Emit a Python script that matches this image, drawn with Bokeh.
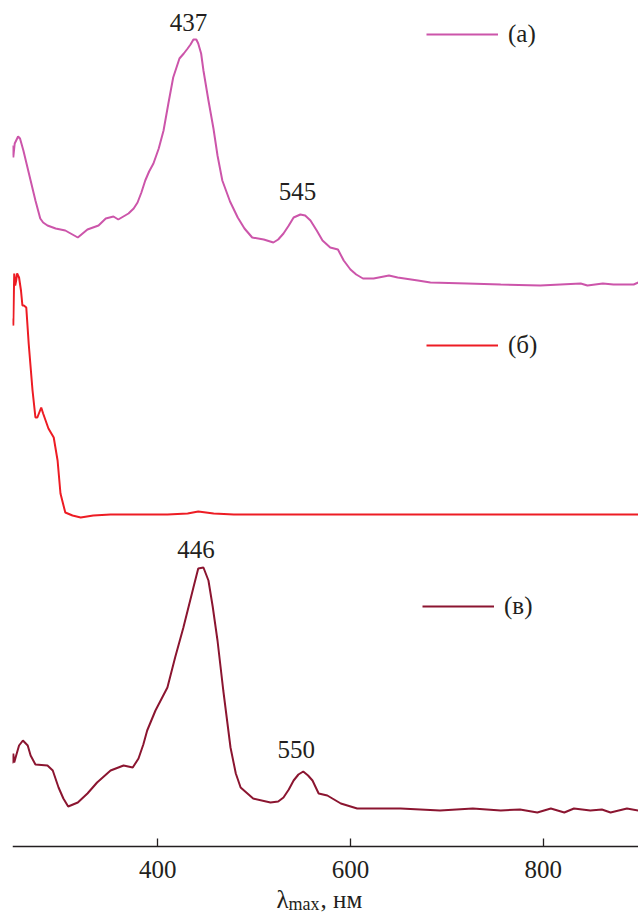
import numpy as np
from bokeh.plotting import figure
from bokeh.models import Range1d, Legend, LegendItem, Label, FixedTicker, ColumnDataSource, LinearAxis
from bokeh.core.properties import value
from bokeh.embed import file_html
from bokeh.resources import INLINE

# ---- data (wavelength, nm ; absorbance, a.u., spectra stacked) ----
wl_a = [249, 250, 251.5, 255, 257, 260.5, 264, 268, 273, 278, 281, 285.5, 294,
        304, 317, 322, 327, 338.5, 346, 354, 359, 369.6, 375, 379, 383, 387,
        391, 395.5, 401, 406, 411, 416, 422.5, 427, 431, 434, 437, 440, 442, 445, 447.4, 452.6, 457.8,
        462, 467, 475, 483, 490, 498, 510, 520, 525, 530.5, 536, 541, 548, 553, 558.5, 565, 571,
        579, 587, 593, 600, 606, 613, 624, 640, 649, 670, 683,
        721, 756, 797, 818, 839, 846, 862, 873, 894, 899]
abs_a = [7.03, 6.91, 7.05, 7.12, 7.10, 6.98, 6.84, 6.68, 6.48, 6.30, 6.26, 6.23, 6.20,
         6.18, 6.11, 6.15, 6.19, 6.23, 6.30, 6.32, 6.29, 6.35, 6.40, 6.46, 6.56, 6.68,
         6.77, 6.85, 7.00, 7.18, 7.45, 7.71, 7.90, 7.95, 8.00, 8.04, 8.09, 8.09, 8.05, 7.95, 7.78, 7.48, 7.20,
         6.93, 6.68, 6.47, 6.31, 6.20, 6.11, 6.09, 6.06, 6.09, 6.15, 6.23, 6.31, 6.34, 6.33, 6.28, 6.18, 6.08,
         6.01, 5.99, 5.88, 5.79, 5.74, 5.70, 5.70, 5.73, 5.71, 5.68, 5.66,
         5.65, 5.64, 5.63, 5.64, 5.65, 5.63, 5.65, 5.64, 5.64, 5.66]

wl_b = [249, 250, 251, 252, 253, 254, 256, 258, 259.5, 261,
        263.5, 266, 270, 273, 275, 279, 281, 286.5, 292, 296,
        299, 304, 311.5, 320, 333, 351, 410, 431, 442, 458,
        479, 600, 750, 899]
abs_b = [5.30, 5.23, 5.75, 5.63, 5.68, 5.75, 5.71, 5.58, 5.43, 5.43,
         5.41, 5.05, 4.58, 4.31, 4.31, 4.41, 4.35, 4.20, 4.11, 3.88,
         3.55, 3.36, 3.33, 3.31, 3.33, 3.34, 3.34, 3.35, 3.37, 3.35,
         3.34, 3.34, 3.34, 3.34]

wl_c = [249, 250, 251, 253, 256, 260, 265, 268, 273, 285.5,
        291, 297, 302, 307, 317, 327, 337, 351, 364.5, 374, 380,
        385, 389, 397.6, 410, 418, 426.6, 437, 442, 447.4, 452.6, 457, 462,
        468, 475.5, 481, 486, 499, 517, 525, 530.5, 536, 541, 546, 551, 556, 560.6, 567,
        576, 590, 607, 652, 693, 727, 756, 776, 794, 808,
        822, 832, 849, 861, 870, 887, 899]
abs_c = [0.85, 0.95, 0.86, 0.93, 1.03, 1.08, 1.03, 0.93, 0.84, 0.83,
         0.78, 0.61, 0.50, 0.42, 0.46, 0.55, 0.66, 0.78, 0.83, 0.81, 0.90,
         1.04, 1.18, 1.38, 1.61, 1.91, 2.21, 2.61, 2.80, 2.81, 2.68, 2.42, 2.08,
         1.58, 1.01, 0.75, 0.61, 0.50, 0.46, 0.47, 0.51, 0.59, 0.68, 0.74, 0.77, 0.73, 0.68, 0.55,
         0.53, 0.45, 0.40, 0.40, 0.38, 0.40, 0.38, 0.39, 0.36, 0.40,
         0.36, 0.40, 0.38, 0.39, 0.36, 0.40, 0.38]

series_labels = ["(а)", "(б)", "(в)"]
peak_names = ["437", "545", "446", "550"]
peak_series = [0, 0, 2, 2]
tick_values = [400, 600, 800]
axis_base = 0.02

# ---- styles ----
FONT = "Liberation Serif"
TXT = "#231f20"
colors = ["#cc55aa", "#ed1c24", "#8b1530"]

p = figure(width=638, height=913, output_backend="svg", toolbar_location=None,
           x_range=Range1d(249.2, 899.0), y_range=Range1d(-0.65, 8.48),
           x_axis_location=None, y_axis_location=None,
           min_border_left=12, min_border_right=0, min_border_top=0, min_border_bottom=0)
p.grid.visible = False
p.outline_line_color = None
p.background_fill_color = "white"

data = [(wl_a, abs_a), (wl_b, abs_b), (wl_c, abs_c)]
renderers = []
for (wl, ab), c in zip(data, colors):
    r = p.line(wl, ab, line_color=c, line_width=2)
    renderers.append(r)

# legends (one per curve)
leg_locs = [(414, 865), (414, 554), (410, 293)]
for r, lab, loc in zip(renderers, series_labels, leg_locs):
    leg = Legend(items=[LegendItem(label=lab, renderers=[r])], location=loc,
                 glyph_width=72, glyph_height=20, label_standoff=10,
                 padding=0, spacing=0, margin=0,
                 border_line_alpha=0, background_fill_alpha=0,
                 label_text_font=FONT, label_text_font_size="25px",
                 label_text_color=TXT)
    p.add_layout(leg)

# peak labels
px = [float(n) for n in peak_names]
py = [float(np.interp(x, data[s][0], data[s][1])) for x, s in zip(px, peak_series)]
src = ColumnDataSource(dict(x=px, y=py, t=peak_names,
                            xo=[-5, 0, -6, -6], yo=[-17, -24, -18, -23]))
p.text(x="x", y="y", text="t", x_offset="xo", y_offset="yo", source=src,
       text_font=value(FONT), text_font_size="25px", text_color=TXT,
       text_align="center", text_baseline="middle")

# x axis (drawn at the spectra baseline)
ax = LinearAxis(fixed_location=axis_base)
ax.ticker = FixedTicker(ticks=tick_values)
ax.major_tick_in = 8
ax.major_tick_out = 0
ax.minor_tick_line_color = None
ax.axis_line_color = TXT
ax.axis_line_width = 1.3
ax.major_tick_line_color = TXT
ax.major_tick_line_width = 1.3
ax.major_label_text_font = FONT
ax.major_label_text_font_size = "25px"
ax.major_label_text_color = TXT
ax.major_label_standoff = 14
p.add_layout(ax, "below")

# axis title: λ_max, нм
for txt, x, y, fs in [("λ", 264, 14, "25px"), ("max", 276, 10, "18px"), (", нм", 308, 14, "25px")]:
    p.add_layout(Label(x=x, y=y, x_units="screen", y_units="screen", text=txt,
                       text_font=FONT, text_font_size=fs, text_color=TXT,
                       text_baseline="alphabetic"))

open("out.html", "w").write(file_html(p, INLINE))
